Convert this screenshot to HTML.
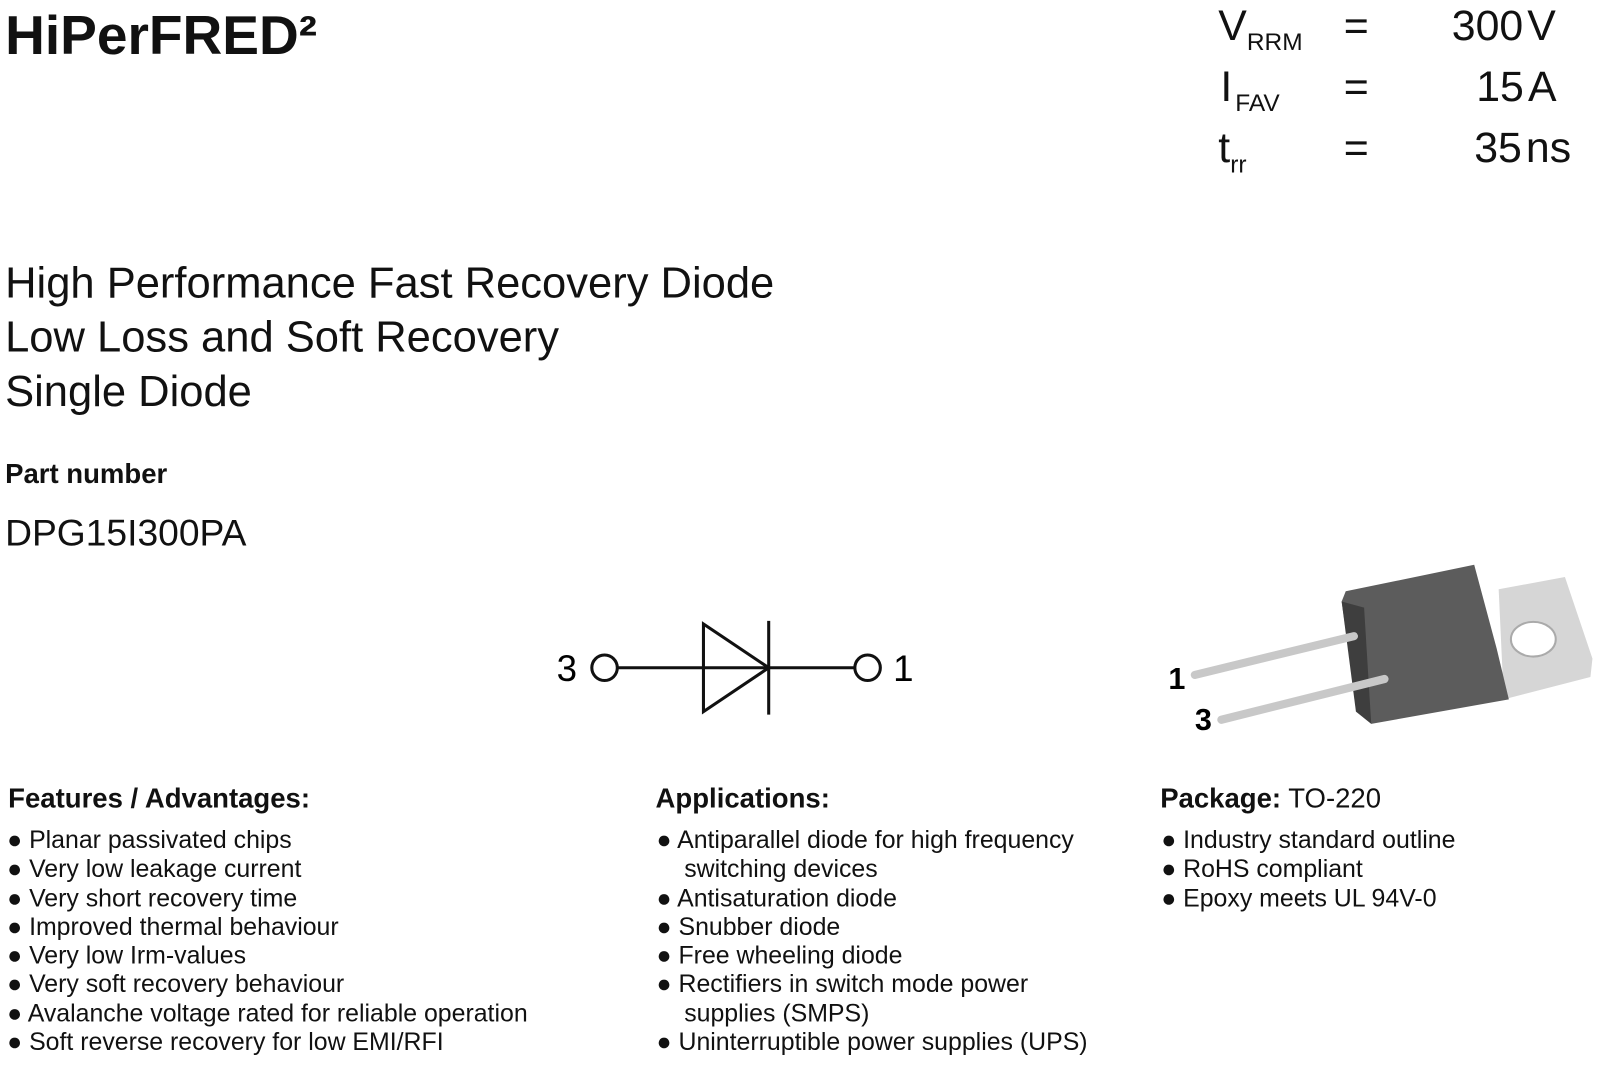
<!DOCTYPE html><html><head><style>
body{margin:0;width:1600px;height:1068px;background:#fff;position:relative;font-family:"Liberation Sans",sans-serif;color:#111;overflow:hidden}
#w{position:absolute;left:0;top:0;width:1570px;height:1048px;transform:scale(1.0195);transform-origin:0 0}
.a{position:absolute;white-space:nowrap;line-height:1}
.l{position:absolute;font-size:24.4px;line-height:28.3px}
.l div{white-space:nowrap}
</style></head><body><div id="w">
<div class="a" style="left:5px;top:8px;font-size:54px;font-weight:bold">HiPerFRED²</div>
<div class="a" style="left:1195px;top:4px;font-size:42px">V<span style="font-size:24px;position:relative;top:10px">RRM</span></div>
<div class="a" style="left:1197px;top:64px;font-size:42px">I<span style="font-size:24px;position:relative;top:10px;margin-left:3px">FAV</span></div>
<div class="a" style="left:1195px;top:124px;font-size:42px">t<span style="font-size:24px;position:relative;top:10px">rr</span></div>
<div class="a" style="left:1318px;top:4px;font-size:42px">=</div>
<div class="a" style="left:1318px;top:64px;font-size:42px">=</div>
<div class="a" style="left:1318px;top:124px;font-size:42px">=</div>
<div class="a" style="left:1424px;top:4px;font-size:42px">300<span style="margin-left:4px">V</span></div>
<div class="a" style="left:1448px;top:64px;font-size:42px">15<span style="margin-left:4px">A</span></div>
<div class="a" style="left:1446px;top:124px;font-size:42px">35<span style="margin-left:4px">ns</span></div>
<div class="a" style="left:5px;top:252px;font-size:42.7px;line-height:53px">High Performance Fast Recovery Diode<br>Low Loss and Soft Recovery<br>Single Diode</div>
<div class="a" style="left:5px;top:452px;font-size:27px;font-weight:bold">Part number</div>
<div class="a" style="left:5px;top:505px;font-size:36.5px">DPG15I300PA</div>
<svg style="position:absolute;left:0;top:0" width="1600" height="1068">
<g stroke="#111" stroke-width="3" fill="none">
<circle cx="593" cy="655" r="12.5"/><circle cx="851" cy="655" r="12.5"/>
<line x1="606" y1="655" x2="838" y2="655"/>
<polygon points="690,612 690,698 754,655"/>
<line x1="754" y1="609" x2="754" y2="701"/>
</g>
<text x="546" y="668" font-size="36" font-family="Liberation Sans">3</text>
<text x="876" y="668" font-size="36" font-family="Liberation Sans">1</text>
<polygon points="1470,578 1535,566 1562,646 1560,664 1475,686" fill="#d6d6d6"/>
<ellipse cx="1504" cy="627" rx="22" ry="17" fill="#fff" stroke="#aaa" stroke-width="2"/>
<polygon points="1316,590 1320,580 1446,554 1468,636 1480,686 1345,710 1330,688" fill="#5c5c5c"/>
<polygon points="1316,590 1338,596 1345,710 1330,698" fill="#3e3e3e"/>
<g stroke="#c8c8c8" stroke-linecap="round">
<line x1="1172" y1="662" x2="1328" y2="624" stroke-width="8"/>
<line x1="1198" y1="706" x2="1358" y2="666" stroke-width="8"/>
</g>
<text x="1146" y="676" font-size="30" font-weight="bold" font-family="Liberation Sans">1</text>
<text x="1172" y="716" font-size="30" font-weight="bold" font-family="Liberation Sans">3</text>
</svg>
<div class="a" style="left:8px;top:770px;font-size:27px;font-weight:bold">Features / Advantages:</div>
<div class="a" style="left:643px;top:770px;font-size:27px;font-weight:bold">Applications:</div>
<div class="a" style="left:1138px;top:770px;font-size:27px"><b>Package:</b> TO-220</div>
<div class="l" style="left:7px;top:811px">
<div>● Planar passivated chips</div><div>● Very low leakage current</div><div>● Very short recovery time</div><div>● Improved thermal behaviour</div><div>● Very low Irm-values</div><div>● Very soft recovery behaviour</div><div>● Avalanche voltage rated for reliable operation</div><div>● Soft reverse recovery for low EMI/RFI</div></div>
<div class="l" style="left:644px;top:811px">
<div>● Antiparallel diode for high frequency</div><div>&nbsp;&nbsp;&nbsp;&nbsp;switching devices</div><div>● Antisaturation diode</div><div>● Snubber diode</div><div>● Free wheeling diode</div><div>● Rectifiers in switch mode power</div><div>&nbsp;&nbsp;&nbsp;&nbsp;supplies (SMPS)</div><div>● Uninterruptible power supplies (UPS)</div></div>
<div class="l" style="left:1139px;top:811px">
<div>● Industry standard outline</div><div>● RoHS compliant</div><div>● Epoxy meets UL 94V-0</div></div>
</div></body></html>
